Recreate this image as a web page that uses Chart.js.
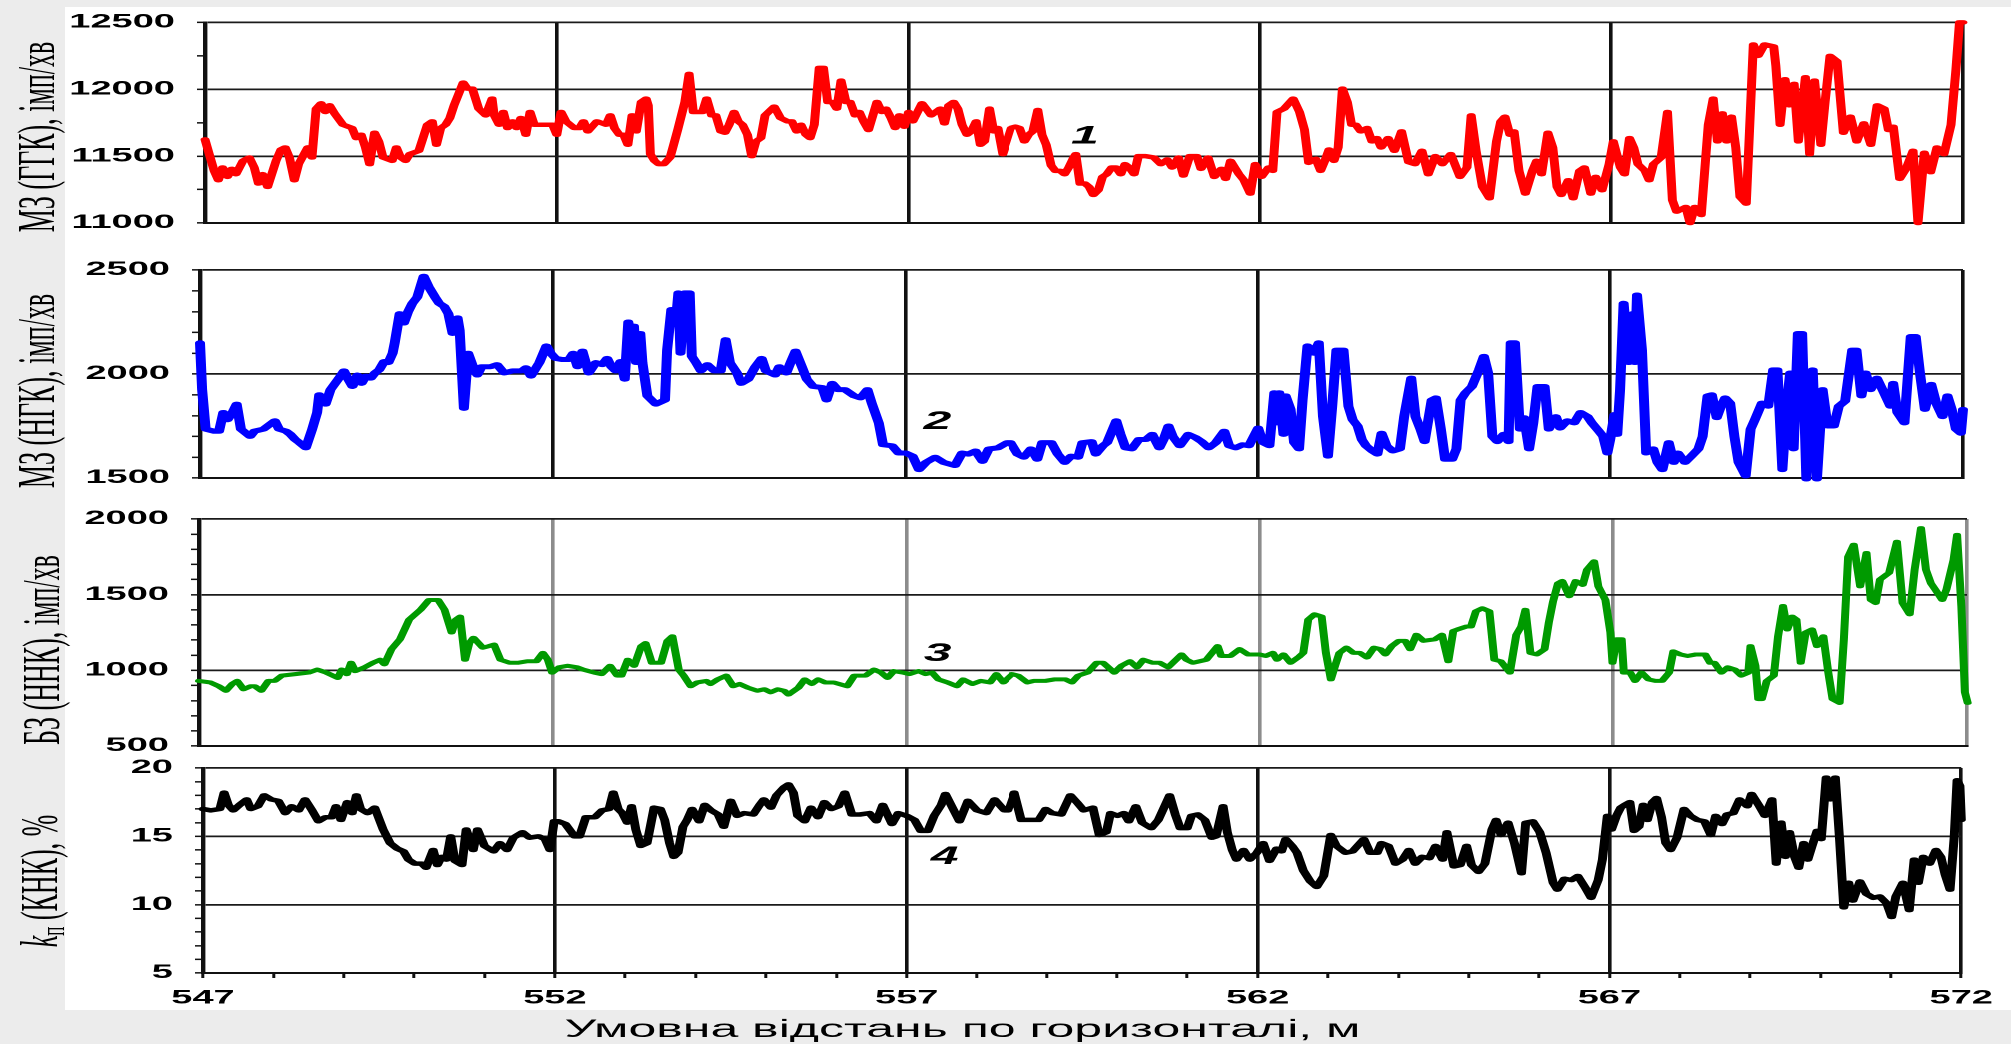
<!DOCTYPE html>
<html><head><meta charset="utf-8">
<script src="https://cdn.jsdelivr.net/npm/chart.js@4.4.1/dist/chart.umd.min.js"></script>
<style>
html,body{margin:0;padding:0;width:2011px;height:1044px;overflow:hidden;background:#ececec}
#paper{position:absolute;left:65px;top:7px;width:1946px;height:1003px;background:#fff}
#wrap{position:absolute;left:0;top:0;width:1006px;height:1044px;transform:scaleX(1.99901);transform-origin:0 0}
.pane{position:absolute;left:0;top:0;width:1006px;height:1044px}
</style></head><body>
<div id="paper"></div>
<div id="wrap">
<div class="pane"><canvas id="c1"></canvas></div>
<div class="pane"><canvas id="c2"></canvas></div>
<div class="pane"><canvas id="c3"></canvas></div>
<div class="pane"><canvas id="c4"></canvas></div>
</div>
<script>
// ---------- DATA ----------
const xMajor = [547, 552, 557, 562, 567, 572];
const ggkTicks = [11000, 11500, 12000, 12500];
const ngkTicks = [1500, 2000, 2500];
const nnkTicks = [500, 1000, 1500, 2000];
const knkTicks = [5, 10, 15, 20];
const seriesNames = ['1', '2', '3', '4'];

const ggk = [[547.00,11625],[547.06,11515],[547.13,11390],[547.19,11320],[547.25,11415],[547.32,11345],[547.38,11405],[547.44,11365],[547.54,11465],[547.63,11490],[547.70,11415],[547.76,11295],[547.82,11365],[547.89,11270],[548.01,11465],[548.08,11550],[548.14,11565],[548.20,11490],[548.27,11320],[548.33,11440],[548.46,11565],[548.52,11490],[548.58,11855],[548.65,11895],[548.71,11830],[548.77,11880],[548.84,11820],[548.96,11735],[549.09,11710],[549.15,11635],[549.22,11660],[549.28,11565],[549.34,11440],[549.41,11675],[549.47,11610],[549.53,11490],[549.66,11465],[549.72,11565],[549.78,11490],[549.85,11465],[549.91,11515],[550.04,11540],[550.16,11735],[550.23,11760],[550.29,11585],[550.35,11710],[550.42,11735],[550.48,11785],[550.54,11880],[550.67,12050],[550.73,12005],[550.80,12005],[550.89,11855],[550.99,11805],[551.08,11930],[551.11,11805],[551.18,11735],[551.24,11830],[551.30,11710],[551.37,11760],[551.43,11710],[551.49,11785],[551.56,11660],[551.62,11830],[551.68,11735],[551.81,11735],[551.94,11735],[552.00,11660],[552.06,11830],[552.13,11760],[552.25,11710],[552.32,11710],[552.38,11760],[552.44,11685],[552.57,11760],[552.70,11735],[552.76,11805],[552.82,11710],[552.89,11660],[552.95,11660],[553.01,11585],[553.07,11805],[553.13,11685],[553.20,11905],[553.27,11930],[553.30,11880],[553.33,11515],[553.39,11465],[553.45,11440],[553.52,11440],[553.61,11490],[553.65,11565],[553.72,11700],[553.82,11905],[553.88,12115],[553.94,11830],[554.07,11830],[554.13,11930],[554.20,11805],[554.26,11805],[554.33,11685],[554.39,11675],[554.45,11735],[554.52,11830],[554.58,11760],[554.64,11735],[554.71,11660],[554.77,11500],[554.83,11610],[554.90,11635],[554.96,11805],[555.09,11870],[555.18,11785],[555.28,11760],[555.34,11760],[555.41,11685],[555.47,11735],[555.54,11660],[555.60,11635],[555.66,11735],[555.73,12160],[555.79,12160],[555.85,11905],[555.92,11905],[555.98,11855],[556.04,12065],[556.11,11905],[556.17,11905],[556.24,11805],[556.30,11830],[556.36,11760],[556.43,11695],[556.55,11905],[556.62,11830],[556.68,11855],[556.75,11785],[556.81,11710],[556.87,11805],[556.94,11720],[557.00,11830],[557.06,11760],[557.19,11895],[557.25,11855],[557.32,11805],[557.45,11855],[557.51,11745],[557.57,11880],[557.64,11905],[557.70,11855],[557.76,11735],[557.83,11660],[557.89,11685],[557.96,11760],[558.02,11585],[558.08,11610],[558.15,11855],[558.21,11685],[558.27,11710],[558.34,11515],[558.40,11610],[558.46,11710],[558.53,11720],[558.59,11710],[558.66,11610],[558.72,11660],[558.78,11685],[558.85,11845],[558.91,11660],[558.97,11585],[559.04,11430],[559.10,11390],[559.17,11390],[559.23,11365],[559.29,11415],[559.36,11490],[559.39,11515],[559.45,11295],[559.52,11295],[559.58,11270],[559.64,11210],[559.71,11245],[559.77,11345],[559.83,11365],[559.90,11415],[559.96,11415],[560.03,11365],[560.09,11440],[560.15,11415],[560.22,11365],[560.28,11500],[560.38,11500],[560.50,11490],[560.60,11440],[560.69,11475],[560.76,11415],[560.85,11490],[560.92,11355],[561.01,11500],[561.11,11500],[561.17,11405],[561.27,11490],[561.36,11345],[561.46,11405],[561.52,11330],[561.59,11465],[561.65,11415],[561.71,11365],[561.78,11320],[561.87,11220],[561.94,11440],[562.03,11345],[562.13,11415],[562.19,11390],[562.25,11830],[562.35,11855],[562.48,11930],[562.57,11830],[562.64,11700],[562.70,11450],[562.80,11480],[562.87,11390],[562.93,11465],[562.99,11550],[563.06,11465],[563.12,11565],[563.18,12005],[563.25,11905],[563.31,11735],[563.37,11735],[563.44,11685],[563.53,11710],[563.60,11610],[563.67,11635],[563.73,11565],[563.83,11635],[563.92,11540],[564.02,11685],[564.12,11455],[564.21,11440],[564.31,11540],[564.40,11365],[564.50,11500],[564.60,11440],[564.72,11515],[564.85,11345],[564.95,11415],[565.01,11805],[565.08,11540],[565.17,11270],[565.27,11185],[565.37,11610],[565.43,11760],[565.49,11795],[565.56,11660],[565.62,11685],[565.69,11390],[565.78,11220],[565.88,11390],[565.94,11465],[566.01,11365],[566.10,11675],[566.17,11565],[566.23,11270],[566.29,11210],[566.39,11320],[566.46,11185],[566.55,11390],[566.62,11415],[566.71,11220],[566.78,11345],[566.87,11245],[566.97,11440],[567.03,11610],[567.13,11415],[567.19,11365],[567.26,11635],[567.32,11565],[567.38,11440],[567.48,11390],[567.54,11320],[567.60,11440],[567.71,11490],[567.80,11830],[567.87,11170],[567.93,11085],[568.06,11120],[568.12,11000],[568.19,11120],[568.28,11060],[568.38,11735],[568.45,11930],[568.51,11610],[568.58,11820],[568.64,11610],[568.71,11795],[568.77,11565],[568.83,11195],[568.92,11145],[569.02,12335],[569.09,12250],[569.18,12335],[569.31,12320],[569.34,12175],[569.40,11735],[569.47,12075],[569.53,11880],[569.60,12040],[569.66,11610],[569.76,12090],[569.82,11515],[569.89,12065],[569.98,11585],[570.04,11905],[570.11,12250],[570.21,12210],[570.30,11675],[570.40,11795],[570.49,11610],[570.59,11745],[570.69,11585],[570.78,11880],[570.88,11855],[570.94,11695],[571.01,11720],[571.10,11330],[571.19,11405],[571.29,11540],[571.36,11000],[571.45,11525],[571.54,11380],[571.63,11565],[571.73,11515],[571.83,11735],[571.90,12150],[571.95,12500],[572.00,12500]];

const ngk = [[547.00,2150],[547.03,1925],[547.08,1735],[547.20,1725],[547.27,1725],[547.33,1815],[547.39,1780],[547.46,1815],[547.52,1855],[547.58,1735],[547.71,1700],[547.77,1725],[547.90,1735],[547.96,1750],[548.06,1775],[548.12,1735],[548.22,1725],[548.28,1710],[548.35,1685],[548.41,1670],[548.50,1645],[548.59,1735],[548.66,1815],[548.69,1900],[548.78,1855],[548.85,1925],[548.97,1980],[549.04,2015],[549.10,1975],[549.16,1940],[549.23,1995],[549.29,1955],[549.35,1990],[549.42,1980],[549.48,2005],[549.54,2020],[549.61,2060],[549.67,2055],[549.73,2100],[549.76,2150],[549.83,2290],[549.89,2245],[549.95,2300],[550.01,2340],[550.08,2370],[550.17,2470],[550.24,2420],[550.33,2370],[550.39,2340],[550.46,2325],[550.52,2290],[550.58,2195],[550.65,2270],[550.68,2210],[550.74,1835],[550.80,2100],[550.87,2035],[550.93,1995],[550.99,2035],[551.12,2035],[551.21,2045],[551.31,2005],[551.43,2015],[551.56,2015],[551.62,2030],[551.69,1990],[551.81,2055],[551.91,2135],[551.97,2100],[552.04,2075],[552.13,2070],[552.23,2070],[552.29,2100],[552.35,2035],[552.42,2110],[552.51,2005],[552.61,2055],[552.70,2045],[552.77,2075],[552.83,2035],[552.89,2015],[552.96,2060],[553.02,1975],[553.07,2250],[553.12,2115],[553.15,2230],[553.18,2055],[553.24,2195],[553.27,2055],[553.34,1895],[553.46,1855],[553.59,1875],[553.62,2115],[553.68,2310],[553.75,2275],[553.78,2390],[553.81,2100],[553.87,2390],[553.94,2390],[553.97,2085],[554.03,2055],[554.10,2015],[554.19,2045],[554.29,2015],[554.38,2015],[554.45,2165],[554.51,2055],[554.61,2005],[554.67,1955],[554.77,1975],[554.87,2035],[554.96,2075],[555.02,2015],[555.15,1995],[555.21,2035],[555.31,2005],[555.37,2055],[555.44,2110],[555.53,2035],[555.60,1975],[555.69,1940],[555.82,1935],[555.88,1875],[555.96,1955],[556.04,1925],[556.14,1925],[556.27,1895],[556.36,1885],[556.46,1925],[556.52,1860],[556.62,1765],[556.68,1660],[556.81,1655],[556.90,1620],[557.00,1620],[557.10,1605],[557.19,1540],[557.29,1575],[557.42,1600],[557.54,1575],[557.70,1560],[557.80,1620],[557.89,1615],[557.99,1630],[558.09,1580],[558.18,1640],[558.31,1645],[558.44,1670],[558.50,1670],[558.60,1615],[558.69,1600],[558.79,1640],[558.88,1590],[558.95,1670],[559.08,1670],[559.17,1615],[559.27,1575],[559.36,1605],[559.46,1600],[559.52,1670],[559.65,1675],[559.71,1615],[559.81,1655],[559.87,1670],[560.00,1775],[560.06,1710],[560.13,1645],[560.22,1640],[560.32,1685],[560.42,1685],[560.51,1710],[560.61,1645],[560.67,1685],[560.74,1750],[560.80,1700],[560.90,1655],[561.02,1710],[561.12,1695],[561.21,1675],[561.31,1645],[561.41,1670],[561.53,1725],[561.60,1655],[561.69,1645],[561.79,1660],[561.88,1655],[562.01,1740],[562.08,1670],[562.17,1655],[562.24,1910],[562.27,1765],[562.31,1910],[562.37,1710],[562.40,1895],[562.47,1830],[562.52,1670],[562.59,1640],[562.64,1875],[562.71,2135],[562.80,2100],[562.87,2150],[562.93,1795],[563.00,1605],[563.06,1845],[563.12,2115],[563.22,2115],[563.29,1845],[563.35,1780],[563.42,1750],[563.48,1685],[563.54,1655],[563.63,1630],[563.70,1615],[563.76,1715],[563.83,1655],[563.92,1630],[564.02,1640],[564.08,1795],[564.18,1980],[564.24,1795],[564.31,1735],[564.37,1675],[564.47,1875],[564.53,1885],[564.60,1735],[564.66,1590],[564.76,1590],[564.82,1640],[564.88,1875],[564.95,1910],[565.04,1940],[565.14,2020],[565.21,2085],[565.27,2005],[565.33,1700],[565.40,1675],[565.49,1710],[565.56,1675],[565.59,2150],[565.65,2150],[565.72,1735],[565.78,1790],[565.85,1640],[565.91,1765],[565.97,1940],[566.07,1940],[566.13,1735],[566.23,1795],[566.29,1740],[566.39,1775],[566.49,1765],[566.58,1815],[566.68,1795],[566.74,1765],[566.84,1725],[566.90,1700],[566.96,1620],[567.00,1685],[567.06,1805],[567.10,1710],[567.14,1925],[567.19,2340],[567.26,2055],[567.32,2290],[567.35,2055],[567.38,2380],[567.45,2115],[567.51,1620],[567.61,1640],[567.67,1575],[567.74,1540],[567.83,1670],[567.90,1575],[567.96,1620],[568.06,1575],[568.15,1605],[568.25,1640],[568.31,1700],[568.38,1895],[568.44,1900],[568.51,1790],[568.57,1845],[568.63,1885],[568.70,1860],[568.76,1700],[568.82,1575],[568.92,1510],[568.99,1735],[569.05,1780],[569.15,1860],[569.24,1845],[569.31,2020],[569.37,2020],[569.44,1540],[569.50,1845],[569.55,2005],[569.60,1640],[569.66,2195],[569.72,2195],[569.78,1495],[569.82,1795],[569.87,2020],[569.93,1495],[570.01,1925],[570.08,1750],[570.17,1750],[570.24,1845],[570.33,1870],[570.43,2115],[570.49,2115],[570.56,1895],[570.62,2005],[570.69,1925],[570.78,1980],[570.88,1910],[570.97,1845],[571.01,1955],[571.07,1815],[571.17,1765],[571.26,2180],[571.33,2180],[571.39,2005],[571.46,1830],[571.55,1950],[571.62,1860],[571.71,1795],[571.78,1895],[571.84,1830],[571.90,1735],[571.97,1715],[572.00,1830]];

const nnk = [[547.00,930],[547.16,920],[547.28,895],[547.38,865],[547.47,910],[547.54,930],[547.63,875],[547.73,895],[547.79,895],[547.88,865],[547.98,930],[548.07,930],[548.17,965],[548.36,975],[548.55,985],[548.67,1005],[548.80,985],[548.96,950],[549.02,1005],[549.09,975],[549.15,1050],[549.21,995],[549.34,1020],[549.46,1050],[549.56,1070],[549.62,1040],[549.72,1140],[549.84,1205],[549.97,1335],[550.13,1400],[550.25,1465],[550.38,1465],[550.47,1400],[550.57,1250],[550.63,1335],[550.69,1355],[550.76,1070],[550.82,1180],[550.88,1215],[551.01,1150],[551.10,1160],[551.17,1170],[551.26,1070],[551.39,1050],[551.51,1050],[551.64,1060],[551.77,1060],[551.86,1115],[551.93,1070],[551.99,985],[552.09,1020],[552.21,1030],[552.34,1020],[552.43,1005],[552.59,985],[552.69,975],[552.81,1030],[552.91,965],[552.97,965],[553.06,1070],[553.15,1030],[553.25,1160],[553.31,1180],[553.40,1050],[553.53,1050],[553.62,1195],[553.69,1225],[553.78,1005],[553.85,965],[553.95,895],[554.04,920],[554.17,930],[554.23,910],[554.33,940],[554.45,965],[554.55,895],[554.64,910],[554.76,885],[554.89,865],[554.99,875],[555.08,855],[555.18,875],[555.27,865],[555.33,840],[555.47,885],[555.56,940],[555.66,910],[555.75,940],[555.85,920],[555.97,920],[556.16,895],[556.26,965],[556.42,965],[556.54,1005],[556.64,985],[556.73,950],[556.82,995],[556.95,985],[557.04,975],[557.17,995],[557.27,975],[557.36,985],[557.45,940],[557.58,920],[557.71,895],[557.80,940],[557.93,910],[558.05,930],[558.18,920],[558.27,975],[558.37,920],[558.50,975],[558.59,965],[558.72,920],[558.81,930],[558.97,930],[559.10,940],[559.26,940],[559.35,920],[559.44,965],[559.57,985],[559.70,1050],[559.79,1050],[559.95,985],[560.05,1030],[560.17,1060],[560.27,1020],[560.36,1070],[560.49,1050],[560.59,1050],[560.71,1020],[560.90,1105],[560.97,1070],[561.06,1050],[561.25,1070],[561.41,1160],[561.46,1095],[561.59,1095],[561.72,1140],[561.84,1105],[562.00,1105],[562.09,1095],[562.19,1115],[562.25,1070],[562.34,1105],[562.44,1050],[562.56,1090],[562.62,1115],[562.69,1335],[562.78,1370],[562.88,1355],[562.94,1115],[563.01,940],[563.07,1030],[563.13,1115],[563.23,1150],[563.33,1115],[563.42,1115],[563.52,1085],[563.62,1150],[563.71,1140],[563.78,1105],[563.87,1160],[563.97,1195],[564.06,1195],[564.13,1140],[564.22,1235],[564.32,1195],[564.48,1205],[564.58,1235],[564.67,1060],[564.74,1260],[564.80,1270],[564.93,1290],[564.99,1290],[565.06,1390],[565.15,1410],[565.25,1390],[565.32,1070],[565.41,1060],[565.54,985],[565.63,1235],[565.70,1290],[565.76,1400],[565.83,1115],[565.92,1105],[566.03,1140],[566.09,1315],[566.15,1455],[566.22,1575],[566.28,1590],[566.38,1490],[566.47,1590],[566.57,1565],[566.63,1665],[566.73,1720],[566.79,1555],[566.89,1465],[566.96,1250],[566.99,1050],[567.05,1205],[567.12,1205],[567.15,985],[567.24,985],[567.31,930],[567.40,985],[567.50,940],[567.60,930],[567.69,930],[567.79,985],[567.85,1125],[567.95,1105],[568.05,1095],[568.17,1105],[568.30,1105],[568.37,1050],[568.43,1050],[568.53,985],[568.62,1020],[568.72,1005],[568.81,965],[568.91,985],[568.94,1160],[569.01,1030],[569.05,810],[569.10,810],[569.17,930],[569.27,965],[569.33,1225],[569.40,1425],[569.46,1270],[569.53,1355],[569.59,1335],[569.65,1050],[569.72,1250],[569.81,1270],[569.88,1160],[569.97,1225],[570.04,985],[570.10,810],[570.20,785],[570.26,1205],[570.32,1750],[570.40,1830],[570.49,1555],[570.58,1775],[570.64,1465],[570.71,1445],[570.77,1600],[570.90,1645],[571.01,1850],[571.09,1445],[571.19,1370],[571.26,1665],[571.35,1940],[571.42,1665],[571.49,1575],[571.55,1535],[571.65,1465],[571.71,1535],[571.81,1730],[571.86,1895],[571.92,1425],[571.97,855],[572.01,785],[572.06,1005]];

const knk = [[547.00,17.0],[547.11,16.9],[547.24,17.0],[547.30,18.2],[547.36,17.3],[547.43,16.9],[547.52,17.3],[547.62,17.7],[547.68,17.0],[547.78,17.2],[547.87,18.0],[547.97,17.7],[548.07,17.6],[548.17,16.7],[548.26,17.2],[548.36,16.9],[548.45,17.7],[548.55,16.9],[548.64,16.1],[548.74,16.4],[548.83,16.4],[548.89,17.2],[548.96,16.2],[549.05,17.5],[549.12,16.7],[549.18,18.0],[549.24,17.0],[549.34,16.7],[549.44,17.1],[549.56,15.5],[549.66,14.5],[549.76,14.1],[549.85,13.9],[549.92,13.3],[550.01,13.0],[550.11,13.0],[550.17,12.7],[550.27,14.0],[550.33,12.9],[550.39,13.5],[550.46,13.3],[550.52,15.0],[550.58,13.2],[550.68,12.9],[550.74,15.5],[550.84,14.0],[550.90,15.5],[551.00,14.3],[551.13,13.9],[551.22,14.5],[551.32,14.0],[551.41,14.9],[551.54,15.3],[551.64,14.9],[551.77,15.0],[551.86,14.8],[551.93,14.0],[551.99,16.1],[552.05,16.1],[552.15,15.9],[552.28,15.0],[552.35,15.0],[552.44,16.4],[552.57,16.4],[552.67,16.9],[552.77,17.0],[552.83,18.2],[552.90,17.0],[552.96,16.7],[553.03,16.0],[553.09,17.2],[553.15,15.5],[553.22,14.3],[553.31,14.5],[553.41,17.1],[553.50,17.0],[553.56,16.2],[553.63,14.5],[553.69,13.5],[553.75,13.8],[553.82,15.7],[553.88,16.2],[553.95,17.0],[554.05,16.1],[554.13,17.3],[554.22,16.9],[554.32,16.6],[554.40,15.7],[554.50,17.6],[554.59,16.5],[554.69,16.7],[554.82,16.6],[554.91,17.3],[554.97,17.7],[555.07,17.1],[555.15,18.0],[555.26,18.6],[555.32,18.8],[555.39,18.2],[555.45,16.5],[555.55,16.1],[555.64,17.1],[555.74,16.4],[555.83,17.5],[555.93,17.0],[556.03,17.2],[556.12,18.2],[556.22,16.6],[556.34,16.6],[556.47,16.7],[556.57,16.1],[556.66,17.3],[556.79,15.9],[556.88,16.7],[557.00,16.5],[557.11,16.2],[557.20,15.4],[557.30,15.4],[557.39,16.5],[557.49,17.3],[557.55,18.1],[557.65,17.1],[557.75,16.1],[557.87,17.6],[558.00,16.9],[558.13,16.7],[558.25,17.7],[558.39,16.9],[558.45,16.9],[558.54,18.2],[558.64,16.2],[558.77,16.2],[558.89,16.2],[558.99,17.0],[559.08,16.7],[559.21,16.6],[559.34,18.0],[559.43,17.5],[559.53,16.9],[559.66,17.1],[559.75,15.1],[559.85,15.3],[559.91,16.7],[560.01,16.5],[560.10,16.7],[560.17,16.1],[560.27,17.2],[560.36,16.0],[560.49,15.6],[560.59,16.2],[560.75,18.0],[560.83,16.6],[560.90,15.6],[561.00,15.6],[561.06,16.5],[561.15,16.6],[561.25,16.2],[561.35,14.9],[561.41,15.0],[561.51,17.2],[561.57,15.3],[561.64,14.0],[561.70,13.3],[561.80,14.0],[561.89,13.3],[561.99,13.8],[562.08,14.5],[562.17,13.2],[562.27,14.1],[562.34,13.9],[562.40,14.8],[562.49,14.3],[562.56,13.8],[562.65,12.5],[562.75,11.7],[562.84,11.3],[562.94,12.1],[563.04,15.1],[563.12,14.3],[563.25,13.8],[563.35,13.9],[563.42,14.3],[563.51,14.8],[563.60,13.8],[563.70,13.8],[563.76,14.5],[563.86,14.3],[563.96,13.0],[564.06,13.3],[564.15,14.0],[564.24,13.0],[564.34,13.5],[564.44,13.4],[564.53,14.3],[564.63,13.3],[564.69,15.3],[564.79,12.8],[564.88,12.9],[564.97,14.3],[565.04,12.9],[565.14,12.4],[565.23,13.0],[565.33,15.5],[565.39,16.2],[565.46,15.1],[565.56,16.0],[565.65,14.5],[565.75,12.3],[565.81,16.0],[565.91,16.1],[566.01,15.3],[566.10,13.8],[566.20,11.6],[566.26,11.1],[566.36,11.9],[566.46,11.8],[566.55,12.1],[566.65,11.3],[566.74,10.5],[566.84,11.8],[566.90,13.3],[566.97,16.5],[567.03,15.5],[567.10,16.5],[567.16,17.1],[567.22,17.3],[567.29,17.5],[567.35,15.4],[567.42,15.7],[567.48,17.3],[567.54,16.2],[567.61,17.5],[567.67,17.8],[567.74,16.4],[567.80,14.5],[567.87,14.0],[567.96,14.9],[568.06,17.0],[568.15,16.5],[568.25,16.2],[568.35,16.1],[568.44,15.1],[568.51,16.5],[568.60,15.9],[568.67,16.6],[568.76,16.7],[568.85,17.7],[568.96,17.2],[569.02,18.1],[569.12,17.3],[569.21,16.5],[569.31,17.7],[569.37,13.0],[569.44,16.0],[569.50,13.5],[569.56,15.3],[569.63,13.5],[569.69,12.7],[569.76,14.5],[569.82,13.3],[569.88,14.3],[569.95,15.4],[570.01,14.8],[570.08,19.3],[570.14,17.7],[570.21,19.3],[570.27,14.8],[570.33,9.8],[570.40,11.6],[570.46,10.3],[570.56,11.7],[570.65,10.8],[570.75,10.5],[570.84,10.6],[570.94,10.1],[571.01,9.1],[571.07,10.6],[571.17,11.6],[571.26,9.6],[571.33,13.3],[571.39,11.6],[571.46,13.5],[571.55,13.0],[571.64,14.0],[571.71,13.5],[571.77,12.2],[571.84,11.1],[571.90,15.0],[571.94,19.1],[571.98,18.7],[572.00,16.2]];

// ---------- LAYOUT / STYLE ----------
const W = 1006, H = 1044;
const TICK_FONT = {family: '"Liberation Sans", Arial, sans-serif', weight: 'bold', size: 19};
const SERIF = '"Liberation Serif", "Times New Roman", serif';

const panels = [
  {id: 'c1', data: ggk, color: '#ff0000', lw: 4.5, ticks: ggkTicks, minor: 250,
   box: {left: 102.5, right: 982, top: 19, bottom: 223}, xGrid: '#111',
   title: [{t: 'МЗ (ГГК), імп/хв', font: '26px ' + SERIF}], titleAt: [20, 137],
   num: seriesNames[0], numAt: [559.52, 11647]},
  {id: 'c2', data: ngk, color: '#0000ff', lw: 5, ticks: ngkTicks, minor: 100,
   box: {left: 100, right: 982, top: 270, bottom: 478}, xGrid: '#111',
   title: [{t: 'МЗ (НГК), імп/хв', font: '26px ' + SERIF}], titleAt: [20, 391],
   num: seriesNames[1], numAt: [557.45, 1769]},
  {id: 'c3', data: nnk, color: '#009a00', lw: 4, ticks: nnkTicks, minor: 100,
   box: {left: 99.5, right: 984, top: 519, bottom: 746}, xGrid: '#8c8c8c',
   title: [{t: 'БЗ (ННК), імп/хв', font: '26px ' + SERIF}], titleAt: [22.5, 650],
   num: seriesNames[2], numAt: [557.44, 1108]},
  {id: 'c4', data: knk, color: '#000000', lw: 4.5, ticks: knkTicks, minor: 1,
   box: {left: 101.5, right: 982, top: 768, bottom: 973}, xGrid: '#111',
   title: [{t: 'k', font: 'italic 26px ' + SERIF}, {t: 'п', font: '17px ' + SERIF, dy: 6},
           {t: ' (КНК), %', font: '26px ' + SERIF}], titleAt: [21.5, 881],
   num: seriesNames[3], numAt: [557.54, 13.49], bottom: true}
];

function makeText(p) {
  return {
    id: 'panelText' + p.id,
    afterDatasetsDraw(chart) {
      const ctx = chart.ctx;
      ctx.save();
      ctx.fillStyle = '#000';
      ctx.textBaseline = 'middle';
      ctx.textAlign = 'left';
      ctx.translate(p.titleAt[0], p.titleAt[1]);
      ctx.rotate(-Math.PI / 2);
      let total = 0;
      p.title.forEach(s => { ctx.font = s.font; total += ctx.measureText(s.t).width; });
      let x = -total / 2;
      p.title.forEach(s => { ctx.font = s.font; ctx.fillText(s.t, x, s.dy || 0); x += ctx.measureText(s.t).width; });
      ctx.restore();
      const xs = chart.scales.x, ys = chart.scales.y;
      ctx.save();
      ctx.fillStyle = '#000';
      ctx.font = 'italic bold 25px "Liberation Sans", Arial, sans-serif';
      ctx.textAlign = 'center';
      ctx.textBaseline = 'middle';
      ctx.fillText(p.num, xs.getPixelForValue(p.numAt[0]), ys.getPixelForValue(p.numAt[1]));
      ctx.restore();
      if (p.bottom) {
        ctx.save();
        ctx.fillStyle = '#000';
        ctx.font = '25px "Liberation Sans", Arial, sans-serif';
        ctx.textAlign = 'center';
        ctx.textBaseline = 'middle';
        ctx.fillText('Умовна відстань по горизонталі, м', 481.5, 1030);
        ctx.restore();
      }
    }
  };
}

function build(p) {
  const xMin = xMajor[0], xMax = xMajor[xMajor.length - 1];
  const xScale = {
    type: 'linear', min: xMin, max: xMax, position: 'bottom',
    afterFit: s => { s.height = H - p.box.bottom; },
    border: {display: true, color: '#111', width: 2}
  };
  if (p.bottom) {
    xScale.ticks = {stepSize: 1, autoSkip: false, maxRotation: 0, minRotation: 0, padding: 9,
      color: '#000', font: TICK_FONT,
      callback: v => (xMajor.includes(v) ? String(v) : '')};
    xScale.grid = {color: c => (c.tick && xMajor.includes(c.tick.value)) ? p.xGrid : 'rgba(0,0,0,0)',
      tickColor: '#111', lineWidth: 1.8, tickWidth: 1.5, tickLength: 5, drawTicks: true};
  } else {
    xScale.ticks = {stepSize: 5, display: false};
    xScale.grid = {color: p.xGrid, lineWidth: 1.8, drawTicks: false};
  }
  return new Chart(document.getElementById(p.id), {
    type: 'line',
    data: {datasets: [{
      data: p.data.map(d => ({x: d[0], y: d[1]})),
      borderColor: p.color, borderWidth: p.lw, pointRadius: 0, tension: 0, fill: false,
      clip: false, borderJoinStyle: 'round', borderCapStyle: 'round'
    }]},
    options: {
      responsive: true, maintainAspectRatio: false, devicePixelRatio: 2,
      animation: false, events: [],
      layout: {autoPadding: false, padding: {top: p.box.top, right: W - p.box.right, left: 0, bottom: 0}},
      plugins: {legend: {display: false}, tooltip: {enabled: false}, title: {display: false}},
      scales: {
        x: xScale,
        y: {
          type: 'linear', min: p.ticks[0], max: p.ticks[p.ticks.length - 1],
          afterFit: s => { s.width = p.box.left; },
          ticks: {stepSize: p.minor, autoSkip: false, padding: 11, color: '#000', font: TICK_FONT,
            callback: v => (p.ticks.includes(v) ? String(v) : '')},
          grid: {color: c => (c.tick && p.ticks.includes(c.tick.value)) ? '#1a1a1a' : 'rgba(0,0,0,0)',
            tickColor: '#111', lineWidth: 1.7, tickWidth: 1.5, tickLength: 4, drawTicks: true},
          border: {display: true, color: '#111', width: 2.2}
        }
      }
    },
    plugins: [makeText(p)]
  });
}
panels.forEach(build);
</script>
</body></html>
